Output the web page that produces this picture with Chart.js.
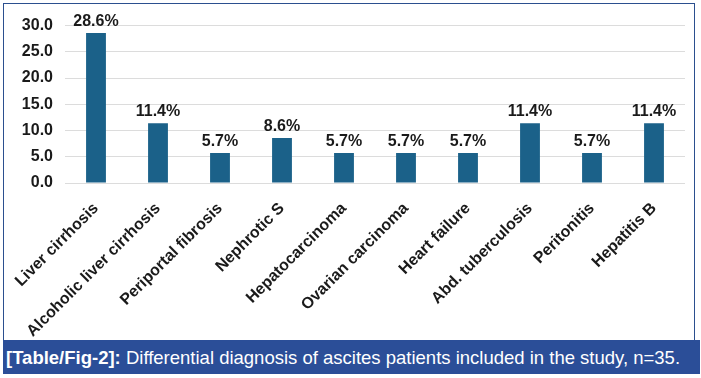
<!DOCTYPE html>
<html>
<head>
<meta charset="utf-8">
<script src="https://cdn.jsdelivr.net/npm/chart.js@4/dist/chart.umd.min.js"></script>
<style>
  html, body { margin: 0; padding: 0; background: #ffffff; }
  body { width: 701px; height: 378px; position: relative; overflow: hidden; }
  #frame { position: absolute; left: 3px; top: 3px; width: 692px; height: 338px; border: 1.5px solid #2b4f8f; border-bottom: none; box-sizing: border-box; }
  #wrap { position: absolute; left: 4px; top: 4px; width: 690px; height: 336px; }
  #caption { position: absolute; left: 3px; top: 340px; width: 697px; height: 34px; background: #2b4e98; color: #ffffff;
    font-family: "Liberation Sans", Arial, sans-serif; font-size: 18.5px; line-height: 36px; padding-left: 3px; box-sizing: border-box; white-space: nowrap; }
  #caption b { font-weight: bold; }
</style>
</head>
<body>
<div id="frame"></div>
<div id="wrap"><canvas id="c" width="690" height="336"></canvas></div>
<div id="caption"><b>[Table/Fig-2]:</b> Differential diagnosis of ascites patients included in the study, n=35.</div>
<script>
const categories = ["Liver cirrhosis", "Alcoholic liver cirrhosis", "Periportal fibrosis", "Nephrotic S", "Hepatocarcinoma", "Ovarian carcinoma", "Heart failure", "Abd. tuberculosis", "Peritonitis", "Hepatitis B"];
const percentages = [28.6, 11.4, 5.7, 8.6, 5.7, 5.7, 5.7, 11.4, 5.7, 11.4];
const yTicks = [0, 5, 10, 15, 20, 25, 30];

const FONT = '"Liberation Sans", Arial, sans-serif';

const valueLabels = {
  id: 'valueLabels',
  afterDatasetsDraw(chart) {
    const ctx = chart.ctx;
    const meta = chart.getDatasetMeta(0);
    ctx.save();
    ctx.font = 'bold 16px ' + FONT;
    ctx.fillStyle = '#1a1a1a';
    ctx.textAlign = 'center';
    ctx.textBaseline = 'alphabetic';
    meta.data.forEach((bar, i) => {
      ctx.fillText(percentages[i].toFixed(1) + '%', bar.x, bar.y - 7);
    });
    ctx.restore();
  }
};

new Chart(document.getElementById('c'), {
  type: 'bar',
  data: {
    labels: categories,
    datasets: [{
      data: percentages,
      backgroundColor: '#1b6189',
      borderWidth: 0,
      barPercentage: 0.32,
      categoryPercentage: 1.0
    }]
  },
  options: {
    responsive: false,
    animation: false,
    layout: { padding: { top: 12, right: 9, left: 0, bottom: 0 } },
    plugins: { legend: { display: false }, tooltip: { enabled: false } },
    scales: {
      x: {
        grid: { display: false },
        border: { display: false },
        ticks: {
          color: '#1a1a1a',
          font: { family: FONT, size: 16, weight: 'bold' },
          minRotation: 45, maxRotation: 45,
          autoSkip: false,
          padding: 8
        },
        afterFit(s) { s.height = 157; }
      },
      y: {
        min: 0, max: 30,
        afterBuildTicks(s) { s.ticks = yTicks.map(v => ({ value: v })); },
        grid: { color: '#dcdcdc', lineWidth: 1, drawTicks: false },
        border: { display: false },
        ticks: {
          color: '#1a1a1a',
          font: { family: FONT, size: 16, weight: 'bold' },
          padding: 12,
          callback: v => Number(v).toFixed(1)
        },
        afterFit(s) { s.width = 61; }
      }
    }
  },
  plugins: [valueLabels]
});
</script>
</body>
</html>
